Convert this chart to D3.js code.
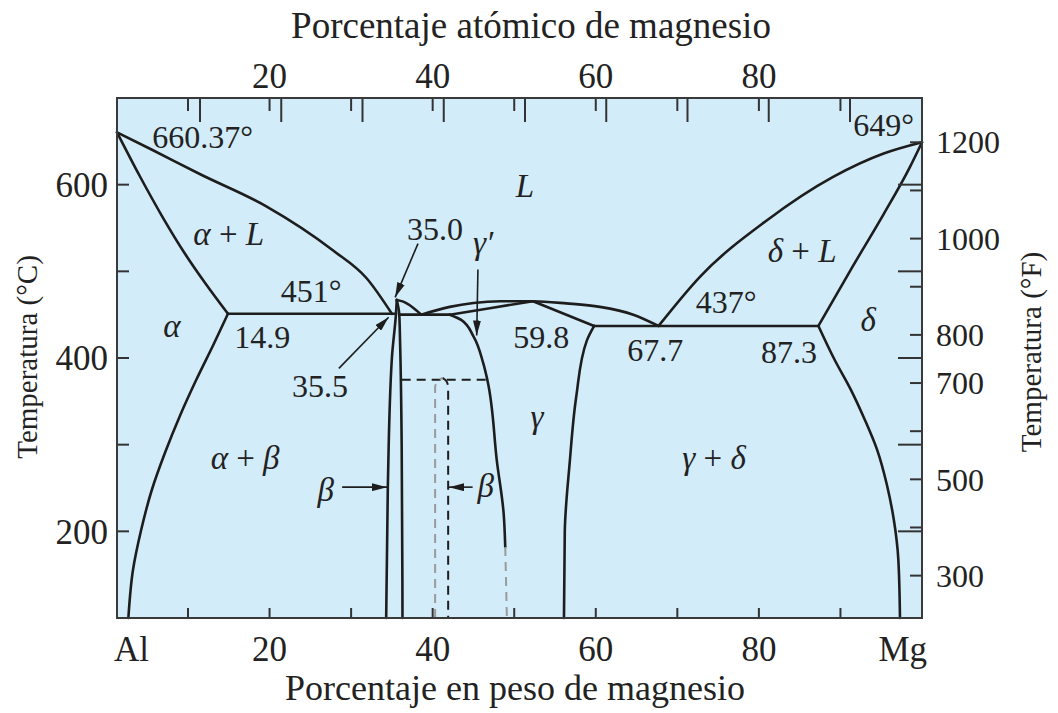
<!DOCTYPE html>
<html>
<head>
<meta charset="utf-8">
<script src="https://cdn.jsdelivr.net/npm/d3@7"></script>
<style>
  html, body { margin: 0; padding: 0; background: #ffffff; }
  svg { display: block; font-family: "Liberation Serif", "Times New Roman", serif; }
</style>
</head>
<body>
<svg id="chart" width="1058" height="713"></svg>
<script>
// ---- Al–Mg phase diagram: boundaries as [wt% Mg, °C] ----
const liquidusAl   = [[0, 660.37], [5, 640], [11.5, 612], [19.6, 575], [27.8, 524], [31.9, 492], [35.0, 451]];
const solidusAlpha = [[0, 660.37], [3.2, 610], [6.5, 561.5], [9.6, 520], [12.1, 486.5], [14.9, 451]];
const solvusAlpha  = [[14.9, 451], [13.1, 415], [11.0, 374.6], [8.9, 334], [6.8, 291.5], [4.9, 247.7], [3.4, 201.5], [2.25, 155.4], [1.6, 100]];
const eutectic451  = [[14.9, 451], [35.5, 451]];
const betaLeft     = [[35.6, 467], [35.5, 451], [35.0, 400], [34.5, 250], [34.3, 100]];
const betaRight    = [[35.6, 467], [35.9, 451], [36.0, 420], [36.2, 300], [36.3, 100]];
const liquidusBeta = [[35.6, 467], [36.4, 465], [37.6, 458], [38.6, 450]];
const eutectic450  = [[35.9, 450], [42.1, 450]];
const liquidusGamma = [[38.6, 450], [42.1, 459], [45.0, 463.5], [48.3, 465.5], [52.3, 465.5], [56.4, 463], [60.5, 459], [64.6, 450], [67.7, 437]];
const solidusGammaL = [[42.1, 450], [47.0, 457.5], [52.3, 465.5]];
const solidusGammaR = [[52.3, 465.5], [59.8, 437]];
const solvusGammaL  = [[42.1, 450], [43.5, 444], [45.0, 425], [46.2, 394], [46.7, 375], [47.9, 279], [48.7, 221], [48.9, 182]];
const solvusGammaLExt = [[48.9, 182], [49.1, 100]];
const solvusGammaR  = [[59.8, 437], [58.9, 420], [57.6, 355], [56.8, 279], [56.2, 200], [56.1, 100]];
const eutectic437   = [[59.8, 437], [87.3, 437]];
const liquidusDelta = [[67.7, 437], [72.8, 494], [81.0, 559], [89.1, 609], [95.3, 636], [100, 649]];
const solidusDelta  = [[87.3, 437], [91.4, 504], [95.3, 566], [98.5, 620], [100, 649]];
const solvusDelta   = [[87.3, 437], [89.3, 397.7], [91.3, 363], [93.0, 328.5], [94.5, 294], [95.7, 253.5], [96.55, 213], [97.1, 167], [97.3, 100]];
// metastable beta (dashed)
const betaMetaTop   = [[36.2, 375], [46.7, 375]];
const betaMetaLeft  = [[40.3, 100], [40.3, 366], [40.6, 373], [41.2, 377]];
const betaMetaRight = [[41.2, 377], [41.7, 373], [41.9, 366], [41.9, 100]];

// ---- axes ----
const wtTicks   = [10, 20, 30, 40, 50, 60, 70, 80, 90];
const wtLabels  = [20, 40, 60, 80];
const atTicks   = [10, 20, 30, 40, 50, 60, 70, 80, 90];
const atLabels  = [20, 40, 60, 80];
const cTicks    = [200, 300, 400, 500, 600];
const cLabels   = [200, 400, 600];
const fTicks    = [300, 400, 500, 600, 700, 800, 900, 1000, 1100, 1200];
const fLabels   = [300, 500, 700, 800, 1000, 1200];

// ---- annotations: text at [wt%, °C] ----
const valueLabels = [
  { text: "660.37°", at: [11.8, 642] },
  { text: "451°",    at: [25.1, 464.6] },
  { text: "14.9",    at: [19.1, 411.5] },
  { text: "35.0",    at: [40.3, 536] },
  { text: "35.5",    at: [26.2, 355] },
  { text: "59.8",    at: [53.3, 411.5] },
  { text: "67.7",    at: [67.3, 396.5] },
  { text: "87.3",    at: [83.7, 394.2] },
  { text: "437°",    at: [76.0, 452] },
  { text: "649°",    at: [95.3, 656] }
];
// phase fields; parts: [text, italic]
const phaseLabels = [
  { parts: [["L", true]],                                at: [51.3, 586] },
  { parts: [["α", true], [" + ", false], ["L", true]],   at: [15.0, 530] },
  { parts: [["α", true]],                                at: [7.75, 424] },
  { parts: [["γ′", true]],                               at: [46.2, 520] },
  { parts: [["δ", true], [" + ", false], ["L", true]],   at: [85.3, 511] },
  { parts: [["δ", true]],                                at: [93.4, 431] },
  { parts: [["γ", true]],                                at: [52.8, 319] },
  { parts: [["γ", true], [" + ", false], ["δ", true]],   at: [74.5, 272] },
  { parts: [["α", true], [" + ", false], ["β", true]],   at: [17.0, 272] },
  { parts: [["β", true]],                                at: [26.9, 235] },
  { parts: [["β", true]],                                at: [46.5, 240] }
];
// arrows: from -> to, [wt%, °C]
const arrows = [
  { from: [38.2, 532], to: [35.4, 470] },
  { from: [28.5, 388], to: [34.6, 447] },
  { from: [45.55, 502], to: [45.4, 426] },
  { from: [28.9, 251], to: [34.4, 251] },
  { from: [44.9, 251], to: [42.0, 251] }
];

// ---- scales ----
const x  = d3.scaleLinear().domain([0, 10, 100]).range([117, 188, 922]);
const xAt = d3.scaleLinear().domain([0, 100]).range([118.75, 931.25]);
const y  = d3.scaleLinear().domain([100, 700]).range([618, 98]);
const fToC = f => (f - 32) * 5 / 9;

const INK = "#1d1d1d";
const svg = d3.select("#chart");

const defs = svg.append("defs");
defs.append("marker")
  .attr("id", "head")
  .attr("viewBox", "0 0 15 8")
  .attr("refX", 15).attr("refY", 4)
  .attr("markerWidth", 15).attr("markerHeight", 8)
  .attr("markerUnits", "userSpaceOnUse")
  .attr("orient", "auto")
  .append("path").attr("d", "M0,0 L15,4 L0,8 Z").attr("fill", INK);

const x0 = x(0), x1 = x(100), yTop = y(700), yBot = y(100);

// plot background
svg.append("rect")
  .attr("x", x0).attr("y", yTop)
  .attr("width", x1 - x0).attr("height", yBot - yTop)
  .attr("fill", "#d3ecf9");

// phase boundary curves
const byX = d3.line().x(d => x(d[0])).y(d => y(d[1])).curve(d3.curveMonotoneX);
const byY = d3.line().x(d => x(d[0])).y(d => y(d[1])).curve(d3.curveMonotoneY);
const straight = d3.line().x(d => x(d[0])).y(d => y(d[1]));

const curves = [
  { pts: liquidusAl, gen: byX },
  { pts: solidusAlpha, gen: byX },
  { pts: solvusAlpha, gen: byY },
  { pts: eutectic451, gen: straight },
  { pts: betaLeft, gen: byY },
  { pts: betaRight, gen: byY },
  { pts: liquidusBeta, gen: byX },
  { pts: eutectic450, gen: straight },
  { pts: liquidusGamma, gen: byX },
  { pts: solidusGammaL, gen: byX },
  { pts: solidusGammaR, gen: straight },
  { pts: solvusGammaL, gen: byY },
  { pts: solvusGammaR, gen: byY },
  { pts: eutectic437, gen: straight },
  { pts: liquidusDelta, gen: byX },
  { pts: solidusDelta, gen: byX },
  { pts: solvusDelta, gen: byY }
];

const gCurves = svg.append("g").attr("fill", "none").attr("stroke", INK)
  .attr("stroke-width", 2.6).attr("stroke-linejoin", "round").attr("stroke-linecap", "round");
gCurves.selectAll("path").data(curves).join("path").attr("d", d => d.gen(d.pts));

// dashed (metastable) lines
const dashed = [
  { pts: betaMetaTop, gen: straight, color: INK },
  { pts: betaMetaRight, gen: byY, color: INK },
  { pts: betaMetaLeft, gen: byY, color: "#9a9a9a" },
  { pts: solvusGammaLExt, gen: straight, color: "#9a9a9a" }
];
svg.append("g").attr("fill", "none").attr("stroke-width", 2).attr("stroke-dasharray", "9,6")
  .selectAll("path").data(dashed).join("path")
  .attr("stroke", d => d.color)
  .attr("d", d => d.gen(d.pts));

// arrows
svg.append("g").attr("stroke", INK).attr("stroke-width", 1.6)
  .selectAll("line").data(arrows).join("line")
  .attr("x1", d => x(d.from[0])).attr("y1", d => y(d.from[1]))
  .attr("x2", d => x(d.to[0])).attr("y2", d => y(d.to[1]))
  .attr("marker-end", "url(#head)");

// ticks
const gTicks = svg.append("g").attr("stroke", "#333").attr("stroke-width", 2);
// bottom (wt%)
gTicks.selectAll(".tb").data(wtTicks).join("line")
  .attr("x1", d => x(d)).attr("x2", d => x(d)).attr("y1", yBot).attr("y2", yBot - 10);
// top (wt% mirrored + atomic %)
gTicks.selectAll(".tt").data(wtTicks).join("line")
  .attr("x1", d => x(d)).attr("x2", d => x(d)).attr("y1", yTop).attr("y2", yTop + 13);
gTicks.selectAll(".ta").data(atTicks).join("line")
  .attr("x1", d => xAt(d)).attr("x2", d => xAt(d)).attr("y1", yTop).attr("y2", yTop + 24);
// left (°C)
gTicks.selectAll(".tl").data(cTicks).join("line")
  .attr("x1", x0).attr("x2", x0 + 12).attr("y1", d => y(d)).attr("y2", d => y(d));
// right (°C long, °F short)
gTicks.selectAll(".trc").data(cTicks).join("line")
  .attr("x1", x1).attr("x2", x1 - 24).attr("y1", d => y(d)).attr("y2", d => y(d));
gTicks.selectAll(".trf").data(fTicks).join("line")
  .attr("x1", x1).attr("x2", x1 - 12).attr("y1", d => y(fToC(d))).attr("y2", d => y(fToC(d)));

// frame
svg.append("rect")
  .attr("x", x0).attr("y", yTop)
  .attr("width", x1 - x0).attr("height", yBot - yTop)
  .attr("fill", "none").attr("stroke", "#3a3a3a").attr("stroke-width", 2);

// axis labels
const gText = svg.append("g").attr("fill", "#222");
gText.selectAll(".lb").data(wtLabels).join("text")
  .attr("x", d => x(d)).attr("y", 661).attr("text-anchor", "middle")
  .attr("font-size", 35).text(d => d);
gText.append("text").attr("x", x0 - 3).attr("y", 661).attr("font-size", 35).text("Al");
gText.append("text").attr("x", x1 + 5).attr("y", 661).attr("text-anchor", "end").attr("font-size", 35).text("Mg");
gText.selectAll(".lt").data(atLabels).join("text")
  .attr("x", d => x(d)).attr("y", 88).attr("text-anchor", "middle")
  .attr("font-size", 35).text(d => d);
gText.selectAll(".ll").data(cLabels).join("text")
  .attr("x", 108).attr("y", d => y(d)).attr("dy", "0.35em").attr("text-anchor", "end")
  .attr("font-size", 35).text(d => d);
gText.selectAll(".lr").data(fLabels).join("text")
  .attr("x", 936).attr("y", d => y(fToC(d))).attr("dy", "0.35em")
  .attr("font-size", 32).text(d => d);

// axis titles
gText.append("text").attr("x", 531).attr("y", 38).attr("text-anchor", "middle")
  .attr("font-size", 37).text("Porcentaje atómico de magnesio");
gText.append("text").attr("x", 515).attr("y", 700).attr("text-anchor", "middle")
  .attr("font-size", 36).text("Porcentaje en peso de magnesio");
gText.append("text").attr("transform", "translate(37,357) rotate(-90)")
  .attr("text-anchor", "middle").attr("font-size", 29).text("Temperatura (°C)");
gText.append("text").attr("transform", "translate(1041,352) rotate(-90)")
  .attr("text-anchor", "middle").attr("font-size", 29).text("Temperatura (°F)");

// values at key points
gText.selectAll(".vl").data(valueLabels).join("text")
  .attr("x", d => x(d.at[0])).attr("y", d => y(d.at[1])).attr("text-anchor", "middle")
  .attr("font-size", 32).text(d => d.text);

// phase field labels
const pl = gText.selectAll(".pl").data(phaseLabels).join("text")
  .attr("x", d => x(d.at[0])).attr("y", d => y(d.at[1])).attr("text-anchor", "middle")
  .attr("font-size", 33);
pl.selectAll("tspan").data(d => d.parts).join("tspan")
  .attr("font-style", p => p[1] ? "italic" : "normal")
  .text(p => p[0]);
</script>
</body>
</html>
